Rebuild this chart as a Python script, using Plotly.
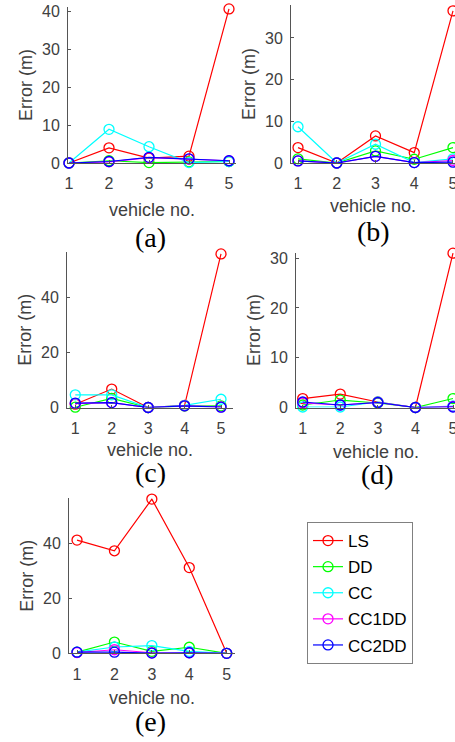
import plotly.graph_objects as go

# ---------------- data ----------------
vehicles = [1, 2, 3, 4, 5]
series_names = ["LS", "DD", "CC", "CC1DD", "CC2DD"]
series_colors = ["#ff0000", "#00ff00", "#00ffff", "#ff00ff", "#0000ff"]

# panel (a)
a_LS = [0.0, 4.0, 1.3, 1.8, 40.7]
a_DD = [0.0, 0.6, 0.1, 0.3, 0.4]
a_CC = [0.0, 8.9, 4.3, 0.1, 0.4]
a_CC1DD = [0.0, 0.3, 1.4, 1.0, 0.6]
a_CC2DD = [0.0, 0.4, 1.5, 1.1, 0.6]
# panel (b)
b_LS = [3.7, 0.0, 6.5, 2.5, 36.5]
b_DD = [1.0, 0.0, 2.9, 0.9, 3.7]
b_CC = [8.7, 0.0, 4.5, 0.1, 1.0]
b_CC1DD = [0.5, 0.0, 1.6, 0.1, 0.6]
b_CC2DD = [0.5, 0.0, 1.6, 0.1, 0.2]
# panel (c)
c_LS = [1.2, 6.7, 0.0, 0.8, 55.8]
c_DD = [0.1, 3.3, 0.0, 0.5, 0.6]
c_CC = [4.6, 4.6, 0.0, 0.8, 3.0]
c_CC1DD = [1.4, 1.8, 0.0, 0.6, 0.2]
c_CC2DD = [1.6, 1.8, 0.0, 0.6, 0.1]
# panel (d)
d_LS = [1.8, 2.7, 1.1, 0.0, 31.0]
d_DD = [0.5, 1.5, 0.9, 0.0, 1.8]
d_CC = [0.1, 0.1, 1.1, 0.0, 0.3]
d_CC1DD = [0.9, 0.5, 1.0, 0.0, 0.2]
d_CC2DD = [1.1, 0.5, 1.0, 0.0, 0.1]
# panel (e)
e_LS = [41.2, 37.3, 56.1, 31.2, 0.0]
e_DD = [0.4, 4.1, 0.7, 2.2, 0.0]
e_CC = [0.4, 2.3, 2.8, 0.7, 0.0]
e_CC1DD = [0.3, 1.3, 0.2, 0.2, 0.0]
e_CC2DD = [0.4, 0.4, 0.1, 0.2, 0.0]

x_ticks = [1, 2, 3, 4, 5]
a_yticks = [0, 10, 20, 30, 40]
b_yticks = [0, 10, 20, 30]
c_yticks = [0, 20, 40]
d_yticks = [0, 10, 20, 30]
e_yticks = [0, 20, 40]

panel_labels = ["(a)", "(b)", "(c)", "(d)", "(e)"]
x_title = "vehicle no."
y_title = "Error (m)"

# ---------------- layout config (pixels) ----------------
W, H = 455, 742
FONT = "Arial, Liberation Sans, sans-serif"
SERIF = "Times New Roman, Liberation Serif, serif"
GRAY = "#404040"

panels = [
    dict(rows=[a_LS, a_DD, a_CC, a_CC1DD, a_CC2DD], yt=a_yticks,
         box=(68, 236, 7, 163), xr=[0.975, 5.175], yr=[0, 41.2], xt_off=47, lab=(150, 238)),
    dict(rows=[b_LS, b_DD, b_CC, b_CC1DD, b_CC2DD], yt=b_yticks,
         box=(291, 455, 5, 163), xr=[0.819, 5.052], yr=[0, 37.9], xt_off=43, lab=(373, 231)),
    dict(rows=[c_LS, c_DD, c_CC, c_CC1DD, c_CC2DD], yt=c_yticks,
         box=(67, 233, 252, 407.5), xr=[0.773, 5.329], yr=[0, 56.5], xt_off=43, lab=(150, 472)),
    dict(rows=[d_LS, d_DD, d_CC, d_CC1DD, d_CC2DD], yt=d_yticks,
         box=(296, 455, 252.7, 407.5), xr=[0.822, 5.053], yr=[0, 31.1], xt_off=44, lab=(377, 474)),
    dict(rows=[e_LS, e_DD, e_CC, e_CC1DD, e_CC2DD], yt=e_yticks,
         box=(69, 235, 498.3, 653.3), xr=[0.786, 5.222], yr=[0, 56.4], xt_off=45, lab=(150, 721.5)),
]

fig = go.Figure()
annotations = []
for i, p in enumerate(panels):
    n = i + 1
    xa = "x" if n == 1 else f"x{n}"
    ya = "y" if n == 1 else f"y{n}"
    last = (n == 5)
    for name, color, vals in zip(series_names, series_colors, p["rows"]):
        fig.add_trace(go.Scatter(
            x=vehicles, y=vals, mode="lines+markers", name=name,
            line=dict(color=color, width=1.2),
            marker=dict(symbol="circle-open", size=10, color=color, line=dict(width=1.3, color=color)),
            xaxis=xa, yaxis=ya, showlegend=last, legendgroup=name, cliponaxis=False,
        ))
    l, r, t, b = p["box"]
    axis_common = dict(showgrid=False, zeroline=False, showline=True, linecolor="#555555",
                       linewidth=1, ticks="inside", ticklen=3, tickcolor="#555555",
                       automargin=False, ticklabeloverflow="allow",
                       tickfont=dict(family=FONT, size=16, color=GRAY))
    fig.layout[("xaxis" if n == 1 else f"xaxis{n}")] = dict(
        domain=[l / W, r / W], range=p["xr"], tickvals=x_ticks, anchor=ya,
        ticklabelstandoff=6, **axis_common)
    fig.layout[("yaxis" if n == 1 else f"yaxis{n}")] = dict(
        domain=[1 - b / H, 1 - t / H], range=p["yr"], tickvals=p["yt"], anchor=xa,
        ticklabelstandoff=4, **axis_common)
    annotations.append(dict(text=y_title, xref="paper", yref="paper",
                            x=(l - 42) / W, y=1 - ((t + b) / 2) / H, textangle=-90,
                            xanchor="center", yanchor="middle", showarrow=False,
                            font=dict(family=FONT, size=18, color=GRAY)))
    annotations.append(dict(text=x_title, xref="paper", yref="paper",
                            x=((l + r) / 2) / W, y=1 - (b + p["xt_off"]) / H,
                            xanchor="center", yanchor="middle", showarrow=False,
                            font=dict(family=FONT, size=18, color=GRAY)))
    lx, ly = p["lab"]
    annotations.append(dict(text=panel_labels[i], xref="paper", yref="paper",
                            x=lx / W, y=1 - ly / H, xanchor="center", yanchor="middle",
                            showarrow=False, font=dict(family=SERIF, size=28, color="#000000")))

fig.update_layout(
    template="none",
    width=W, height=H, margin=dict(l=0, r=0, t=0, b=0, pad=0), autosize=False,
    paper_bgcolor="white", plot_bgcolor="white",
    annotations=annotations,
    legend=dict(x=307 / W, y=1 - 522 / H, xanchor="left", yanchor="top",
                bordercolor="#808080", borderwidth=1, bgcolor="white",
                font=dict(family=FONT, size=17, color="#000000"),
                tracegroupgap=1, itemwidth=30),
)

post = ("document.documentElement.style.margin='0';"
        "document.documentElement.style.overflow='hidden';"
        "document.body.style.margin='0';document.body.style.padding='0';"
        "document.body.style.overflow='hidden';"
        "var gd=document.getElementById('{plot_id}');"
        "gd.style.position='fixed';gd.style.left='0px';gd.style.top='0px';")

fig.write_html("out.html", config={"displayModeBar": False}, post_script=post)
